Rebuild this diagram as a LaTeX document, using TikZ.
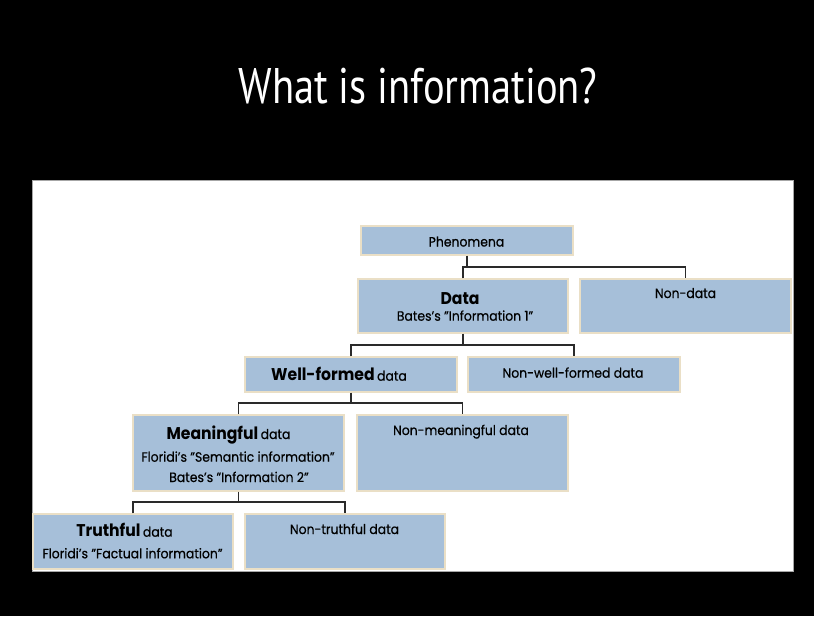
\documentclass[tikz,border=0pt]{standalone}
\usepackage{fontspec}
\setmainfont{Poppins}[FakeStretch=0.92, FakeBold=0.5]
\newfontfamily\headfont{Poppins}[FakeStretch=0.92]
\newfontfamily\titlefont{PT Sans}[FakeStretch=0.81]
\definecolor{boxfill}{HTML}{A6BFD9}
\definecolor{boxedge}{HTML}{EADFC6}
\definecolor{wire}{HTML}{2A2A2A}
\tikzset{
  box/.style={rectangle, fill=boxfill, draw=boxedge, line width=1.2pt, inner sep=0pt},
  txt/.style={inner sep=0pt, anchor=base, text=black, font=\fontsize{13.5}{15}\selectfont},
  head/.style={inner sep=0pt, anchor=base, text=black},
  conn/.style={draw=wire, line width=1.1pt},
}
\newcommand{\hd}[1]{{\headfont\fontsize{17}{19}\selectfont\bfseries #1}}
\newcommand{\sm}[1]{{\fontsize{13.5}{15}\selectfont #1}}
\begin{document}
\begin{tikzpicture}[x=1pt, y=-1pt]
  \useasboundingbox (0,0) rectangle (814,616);
  \fill[black] (0,0) rectangle (814,616);
  % title
  \node[inner sep=0pt, anchor=base, text=white, font=\titlefont\fontsize{50}{56}\selectfont] (title) at (418,103) {What is information?};
  % white panel
  \filldraw[fill=white, draw=gray!70, line width=1pt] (32,180) rectangle (793,571);

  % boxes
  \node[box, minimum width=212pt, minimum height=29pt] (phen)     at (467,240.5) {};
  \node[box, minimum width=210pt, minimum height=54pt] (data)     at (463,306) {};
  \node[box, minimum width=211pt, minimum height=54pt] (nondata)  at (685.5,306) {};
  \node[box, minimum width=212pt, minimum height=35pt] (wf)       at (351,374.5) {};
  \node[box, minimum width=212pt, minimum height=35pt] (nwf)      at (574,374.5) {};
  \node[box, minimum width=211pt, minimum height=76pt] (mean)     at (238.5,453) {};
  \node[box, minimum width=211pt, minimum height=76pt] (nmean)    at (462.5,453) {};
  \node[box, minimum width=200pt, minimum height=55pt] (truth)    at (133,541.5) {};
  \node[box, minimum width=200pt, minimum height=55pt] (ntruth)   at (345,541.5) {};

  % texts
  \node[txt] (phent)   at (466.5,246.5) {Phenomena};
  \node[head] (datat)  at (460,304) {\hd{Data}};
  \node[txt] (datab)   at (465,320.7) {Bates's "Information 1"};
  \node[txt] (ndatat)  at (685.5,298) {Non-data};
  \node[head] (wft)    at (339,380.7) {\hd{Well-formed} \sm{data}};
  \node[txt] (nwft)    at (573,377.7) {Non-well-formed data};
  \node[head] (meant)  at (228.5,439) {\hd{Meaningful} \sm{data}};
  \node[txt] (meanf)   at (238,461.7) {Floridi's "Semantic information"};
  \node[txt] (meanb)   at (239,482) {Bates's "Information 2"};
  \node[txt] (nmeant)  at (461,435) {Non-meaningful data};
  \node[head] (trutht) at (124.5,536.7) {\hd{Truthful} \sm{data}};
  \node[txt] (truthf)  at (132.5,558.3) {Floridi's "Factual information"};
  \node[txt] (ntrutht) at (344.5,534) {Non-truthful data};

  % connector bus levels
  \coordinate (bus1) at (0,267);
  \coordinate (bus2) at (0,345);
  \coordinate (bus3) at (0,403);
  \coordinate (bus4) at (0,502);

  % connectors
  \draw[conn] (phen.south) -- (phen.south |- bus1);
  \draw[conn] (data.north) -- (data.north |- bus1) -- (nondata.north |- bus1) -- (nondata.north);
  \draw[conn] (data.south) -- (data.south |- bus2);
  \draw[conn] (wf.north) -- (wf.north |- bus2) -- (nwf.north |- bus2) -- (nwf.north);
  \draw[conn] (wf.south) -- (wf.south |- bus3);
  \draw[conn] (mean.north) -- (mean.north |- bus3) -- (nmean.north |- bus3) -- (nmean.north);
  \draw[conn] (mean.south) -- (mean.south |- bus4);
  \draw[conn] (truth.north) -- (truth.north |- bus4) -- (ntruth.north |- bus4) -- (ntruth.north);
\end{tikzpicture}
\end{document}
